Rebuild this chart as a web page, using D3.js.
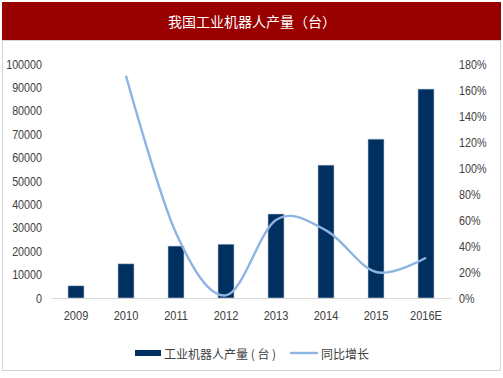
<!DOCTYPE html>
<html>
<head>
<meta charset="utf-8">
<script src="https://cdn.jsdelivr.net/npm/d3@7"></script>
<style>
  body { margin: 0; background: #fff; }
  svg { display: block; }
  .tick text { font-family: "Liberation Sans", Arial, sans-serif; fill: #404040; }
</style>
</head>
<body>
<svg></svg>
<script>
let years = ['2009', '2010', '2011', '2012', '2013', '2014', '2015', '2016E'];
let output = [5200, 14600, 22200, 23000, 35900, 56800, 67900, 89300];
let growth = [null, 1.71, 0.50, 0.02, 0.60, 0.52, 0.20, 0.31];
let leftTicks = [0, 10000, 20000, 30000, 40000, 50000, 60000, 70000, 80000, 90000, 100000];
let rightTicks = [0, 0.2, 0.4, 0.6, 0.8, 1.0, 1.2, 1.4, 1.6, 1.8];

let width = 503;
let height = 378;

let svg = d3.select('svg')
    .attr('width', width)
    .attr('height', height);

// frame + title bar
svg.append('rect')
   .attr('x', 2.5).attr('y', 40.5)
   .attr('width', 498).attr('height', 330)
   .attr('fill', 'none')
   .attr('stroke', '#d4d4d4');
svg.append('rect')
   .attr('x', 2).attr('y', 2)
   .attr('width', 499).attr('height', 38)
   .attr('fill', '#990000');
svg.append('text')
   .attr('x', 252).attr('y', 21)
   .attr('text-anchor', 'middle')
   .attr('dominant-baseline', 'central')
   .attr('fill', '#fff')
   .style('font-family', '"Noto Sans CJK SC", sans-serif')
   .style('font-size', '14px')
   .text('我国工业机器人产量（台）');

let xScale = d3.scaleBand().domain(years).range([51, 451]);
let yScale = d3.scaleLinear().domain([0, 100000]).range([298, 64]);
let y2Scale = d3.scaleLinear().domain([0, 1.8]).range([298, 64]);

// axes (narrow-looking labels: squeeze horizontally)
let yAxis = d3.axisLeft(yScale).tickValues(leftTicks).tickSize(0).tickPadding(0)
   .tickFormat(d3.format('d'));
svg.append('g')
   .attr('transform', 'translate(42,0)')
   .call(yAxis)
   .call(g => g.select('.domain').remove())
   .selectAll('text')
   .style('font-size', '12.5px')
   .attr('transform', 'scale(0.86,1)');

let y2Axis = d3.axisRight(y2Scale).tickValues(rightTicks).tickSize(0).tickPadding(0)
   .tickFormat(d3.format('.0%'));
svg.append('g')
   .attr('transform', 'translate(459,0)')
   .call(y2Axis)
   .call(g => g.select('.domain').remove())
   .selectAll('text')
   .style('font-size', '12.5px')
   .attr('transform', 'scale(0.86,1)');

let xAxis = d3.axisBottom(xScale).tickSize(0).tickPadding(13);
svg.append('g')
   .attr('transform', 'translate(0,298)')
   .call(xAxis)
   .call(g => g.select('.domain').attr('stroke', '#d9d9d9').attr('stroke-width', 1.2))
   .selectAll('text')
   .style('font-size', '13px')
   .attr('transform', 'scale(0.85,1)');

// bars
let barW = 16;
svg.append('g').selectAll('rect')
   .data(years.map((y, i) => ({ year: y, value: output[i] })))
   .enter()
   .append('rect')
   .attr('x', d => xScale(d.year) + (xScale.bandwidth() - barW) / 2)
   .attr('y', d => yScale(d.value))
   .attr('width', barW)
   .attr('height', d => yScale(0) - yScale(d.value))
   .attr('fill', '#003060')
   .attr('stroke', '#bcc8d8')
   .attr('stroke-width', 0.6);

// growth line, smoothed like the spreadsheet original
let linePts = years.map((y, i) => ({ year: y, value: growth[i] })).filter(d => d.value !== null);
let line = d3.line()
   .x(d => xScale(d.year) + xScale.bandwidth() / 2)
   .y(d => y2Scale(d.value))
   .curve(d3.curveCardinal.tension(0));
svg.append('path')
   .datum(linePts)
   .attr('d', line)
   .attr('fill', 'none')
   .attr('stroke', '#8eb4e3')
   .attr('stroke-width', 2.4);

// legend
let legend = svg.append('g').style('font-family', '"Noto Sans CJK SC", sans-serif').style('font-size', '12px');
legend.append('rect')
   .attr('x', 135).attr('y', 350).attr('width', 26).attr('height', 6)
   .attr('fill', '#003060');
legend.append('text')
   .attr('x', 164).attr('y', 353).attr('dominant-baseline', 'central')
   .attr('fill', '#404040')
   .text('工业机器人产量 ( 台 )');
legend.append('line')
   .attr('x1', 290).attr('x2', 318).attr('y1', 353).attr('y2', 353)
   .attr('stroke', '#8eb4e3').attr('stroke-width', 2.4);
legend.append('text')
   .attr('x', 321).attr('y', 353).attr('dominant-baseline', 'central')
   .attr('fill', '#404040')
   .text('同比增长');
</script>
</body>
</html>
